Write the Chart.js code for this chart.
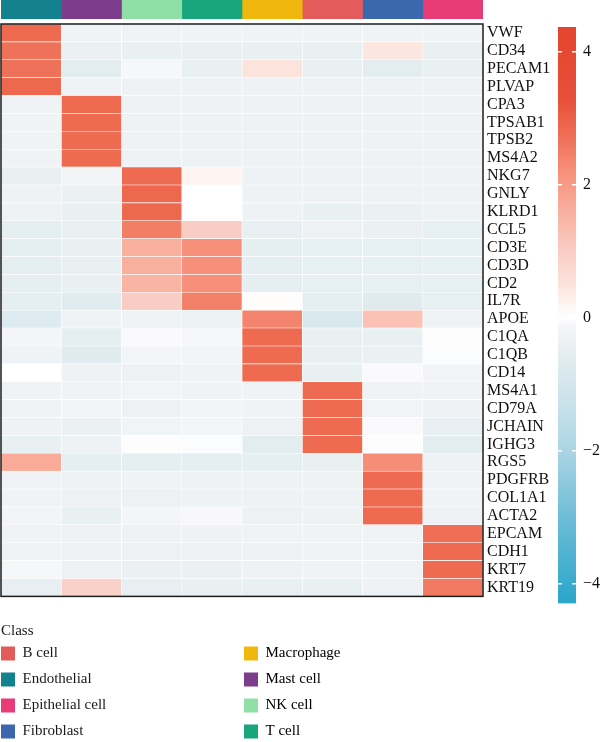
<!DOCTYPE html>
<html>
<head>
<meta charset="utf-8">
<script src="https://cdn.jsdelivr.net/npm/chart.js@4.4.1/dist/chart.umd.min.js"></script>
<style>
  body { margin: 0; background: #fff; }
  #wrap { position: relative; width: 600px; height: 742px; overflow: hidden; }
  canvas { position: absolute; }
</style>
</head>
<body>
<div id="wrap">
  <canvas id="annot" width="556" height="19" style="left:0;top:0"></canvas>
  <canvas id="heat" width="556" height="610" style="left:0;top:0"></canvas>
  <canvas id="scale" width="55" height="620" style="left:545px;top:0"></canvas>
  <canvas id="legend1" width="240" height="140" style="left:0;top:623px"></canvas>
  <canvas id="legend2" width="240" height="140" style="left:243px;top:646px"></canvas>
</div>
<script>
// rows (genes), top to bottom
const genes = ['VWF', 'CD34', 'PECAM1', 'PLVAP', 'CPA3', 'TPSAB1', 'TPSB2', 'MS4A2',
  'NKG7', 'GNLY', 'KLRD1', 'CCL5', 'CD3E', 'CD3D', 'CD2', 'IL7R',
  'APOE', 'C1QA', 'C1QB', 'CD14', 'MS4A1', 'CD79A', 'JCHAIN', 'IGHG3',
  'RGS5', 'PDGFRB', 'COL1A1', 'ACTA2', 'EPCAM', 'CDH1', 'KRT7', 'KRT19'];

// columns, left to right
const cellTypes = ['Endothelial', 'Mast cell', 'NK cell', 'T cell', 'Macrophage', 'B cell', 'Fibroblast', 'Epithelial cell'];

// scaled expression per column (one value per gene)
const endothelial = [2.8, 2.7, 2.7, 2.85, -0.3, -0.27, -0.3, -0.27, -0.45, -0.33, -0.33, -0.54, -0.54, -0.54, -0.54, -0.54,
  -0.75, -0.15, -0.3, 0, -0.27, -0.27, -0.33, -0.45, 1.7, -0.3, -0.27, -0.22, -0.3, -0.3, -0.12, -0.5];
const mastCell = [-0.27, -0.4, -0.6, -0.3, 2.8, 2.8, 2.8, 2.8, -0.22, -0.4, -0.45, -0.45, -0.45, -0.45, -0.45, -0.65,
  -0.27, -0.54, -0.7, -0.33, -0.27, -0.22, -0.4, -0.33, -0.54, -0.33, -0.36, -0.45, -0.33, -0.33, -0.36, 0.9];
const nkCell = [-0.27, -0.45, -0.12, -0.33, -0.33, -0.33, -0.33, -0.33, 2.8, 2.85, 2.85, 2.5, 1.6, 1.6, 1.5, 1.0,
  -0.3, -0.07, -0.15, -0.36, -0.25, -0.36, -0.24, -0.03, -0.54, -0.27, -0.36, -0.15, -0.33, -0.36, -0.4, -0.5];
const tCell = [-0.3, -0.45, -0.45, -0.33, -0.33, -0.33, -0.33, -0.33, 0.2, 0, 0, 1.0, 2.2, 2.2, 2.2, 2.45,
  -0.38, -0.12, -0.2, -0.3, -0.27, -0.2, -0.18, -0.05, -0.54, -0.33, -0.33, -0.1, -0.33, -0.36, -0.4, -0.45];
const macrophage = [-0.3, -0.45, 0.5, -0.33, -0.33, -0.33, -0.33, -0.33, -0.33, -0.33, -0.33, -0.47, -0.54, -0.54, -0.54, 0.05,
  2.4, 2.8, 2.8, 2.8, -0.3, -0.3, -0.36, -0.6, -0.54, -0.33, -0.33, -0.36, -0.27, -0.33, -0.33, -0.45];
const bCell = [-0.3, -0.45, -0.45, -0.33, -0.33, -0.33, -0.33, -0.33, -0.33, -0.33, -0.45, -0.36, -0.52, -0.52, -0.52, -0.54,
  -0.88, -0.45, -0.45, -0.45, 2.8, 2.8, 2.8, 2.8, -0.45, -0.33, -0.33, -0.33, -0.27, -0.3, -0.3, -0.45];
const fibroblast = [-0.3, 0.45, -0.6, -0.33, -0.33, -0.33, -0.33, -0.33, -0.33, -0.33, -0.4, -0.4, -0.52, -0.52, -0.52, -0.7,
  1.25, -0.45, -0.4, -0.07, -0.3, -0.24, -0.07, -0.03, 2.25, 2.8, 2.8, 2.8, -0.27, -0.3, -0.3, -0.33];
const epithelial = [-0.3, -0.45, -0.45, -0.33, -0.33, -0.33, -0.33, -0.33, -0.33, -0.33, -0.33, -0.52, -0.52, -0.52, -0.52, -0.52,
  -0.27, -0.03, -0.05, -0.2, -0.27, -0.33, -0.47, -0.6, -0.33, -0.27, -0.27, -0.33, 2.75, 2.8, 2.8, 2.55];

const columns = [endothelial, mastCell, nkCell, tCell, macrophage, bCell, fibroblast, epithelial];

// annotation colours, same order as cellTypes
const classColors = ['#13828E', '#7E3C8C', '#90DFA7', '#19A67C', '#F2B70F', '#E35B5B', '#3A67AD', '#E93C77'];

// legend columns
const legendLeft = ['B cell', 'Endothelial', 'Epithelial cell', 'Fibroblast'];
const legendRight = ['Macrophage', 'Mast cell', 'NK cell', 'T cell'];

// colour key
const colorMin = -4.3;
const colorMax = 4.37;
const colorTicks = [-4, -2, 0, 2, 4];
const stopValues = [-4.3, -3, -2, -1.2, -0.8, -0.55, -0.33, -0.15, 0, 0.5, 1.0, 1.6, 2.2, 2.8, 3.3, 4.37];
const stopColors = ['#2AA5CB', '#6EBDD7', '#ABD5E4', '#CDE3EB', '#DBE9EE', '#E5EEF1', '#EEF2F4', '#F4F5F8',
  '#FFFFFF', '#FCE3DC', '#FACDC4', '#F9AF9E', '#F7907A', '#EE6B52', '#E75039', '#E4452E'];

function hexRgb(h) {
  return [parseInt(h.slice(1, 3), 16), parseInt(h.slice(3, 5), 16), parseInt(h.slice(5, 7), 16)];
}

function colorFor(v) {
  if (v <= stopValues[0]) return stopColors[0];
  for (let i = 1; i < stopValues.length; i++) {
    if (v <= stopValues[i]) {
      const t = (v - stopValues[i - 1]) / (stopValues[i] - stopValues[i - 1]);
      const a = hexRgb(stopColors[i - 1]), b = hexRgb(stopColors[i]);
      const c = a.map((x, k) => Math.round(x + (b[k] - x) * t));
      return 'rgb(' + c.join(',') + ')';
    }
  }
  return stopColors[stopColors.length - 1];
}

function gradientFill(context) {
  const chart = context.chart;
  if (!chart.chartArea) return null;
  const y = chart.scales.y;
  const g = chart.ctx.createLinearGradient(0, y.getPixelForValue(colorMax), 0, y.getPixelForValue(colorMin));
  stopValues.forEach((v, i) => {
    const off = Math.min(1, Math.max(0, (colorMax - v) / (colorMax - colorMin)));
    g.addColorStop(off, stopColors[i]);
  });
  return g;
}

Chart.defaults.font.family = "'Liberation Serif', 'DejaVu Serif', serif";
Chart.defaults.color = '#1a1a1a';
Chart.defaults.animation = false;

// black frame round the heatmap body
const frame = {
  id: 'frame',
  afterDatasetsDraw(chart) {
    const {ctx, chartArea: a} = chart;
    ctx.save();
    ctx.strokeStyle = '#1c1c1c';
    ctx.lineWidth = 1.5;
    ctx.strokeRect(a.left, a.top, a.right - a.left, a.bottom - a.top);
    ctx.restore();
  }
};

// top annotation bar
new Chart(document.getElementById('annot'), {
  type: 'bar',
  data: {
    labels: ['Class'],
    datasets: cellTypes.map((c, i) => ({
      label: c,
      data: [1],
      backgroundColor: classColors[i],
      borderWidth: 0,
      barPercentage: 1,
      categoryPercentage: 1
    }))
  },
  options: {
    indexAxis: 'y',
    responsive: false,
    layout: { padding: { left: 1, right: 73 } },
    scales: {
      x: { stacked: true, min: 0, max: cellTypes.length, display: false },
      y: { stacked: true, display: false }
    },
    plugins: { legend: { display: false }, tooltip: { enabled: false } }
  }
});

// heatmap body
new Chart(document.getElementById('heat'), {
  type: 'bar',
  data: {
    labels: genes,
    datasets: columns.map((vals, i) => ({
      label: cellTypes[i],
      data: vals.map(() => 1),
      backgroundColor: vals.map(colorFor),
      borderColor: '#ffffff',
      borderWidth: 0.6,
      borderSkipped: false,
      barPercentage: 1,
      categoryPercentage: 1
    }))
  },
  options: {
    indexAxis: 'y',
    responsive: false,
    layout: { padding: { left: 1, top: 24, bottom: 7 } },
    scales: {
      x: { stacked: true, min: 0, max: cellTypes.length, display: false },
      y: {
        stacked: true,
        position: 'right',
        grid: { display: false, drawTicks: false },
        border: { display: false },
        ticks: { padding: 4, autoSkip: false, color: '#111', font: { size: 16 } },
        afterFit: s => { s.width = 73; }
      }
    },
    plugins: { legend: { display: false }, tooltip: { enabled: false } }
  },
  plugins: [frame]
});

// colour key
new Chart(document.getElementById('scale'), {
  type: 'bar',
  data: {
    labels: ['z'],
    datasets: [{
      data: [[colorMin, colorMax]],
      backgroundColor: gradientFill,
      borderWidth: 0,
      barPercentage: 1,
      categoryPercentage: 1
    }]
  },
  options: {
    responsive: false,
    layout: { padding: { left: 13, top: 27, bottom: 16 } },
    scales: {
      x: { display: false },
      y: {
        position: 'right',
        min: colorMin,
        max: colorMax,
        afterBuildTicks: s => { s.ticks = colorTicks.map(v => ({ value: v })); },
        afterFit: s => { s.width = 24; },
        grid: { color: '#ffffff', lineWidth: 1.5, drawTicks: false, z: 1 },
        border: { display: false, dash: [4, 10] },
        ticks: {
          padding: 7,
          color: '#111',
          font: { size: 16 },
          callback: v => v < 0 ? '\u2212' + Math.abs(v) : String(v)
        }
      }
    },
    plugins: { legend: { display: false }, tooltip: { enabled: false } }
  }
});

function legendChart(id, names, showTitle) {
  return new Chart(document.getElementById(id), {
    type: 'bar',
    data: {
      labels: [],
      datasets: names.map(n => ({
        label: n,
        data: [],
        backgroundColor: classColors[cellTypes.indexOf(n)],
        borderWidth: 0
      }))
    },
    options: {
      responsive: false,
      layout: { padding: { left: 1 } },
      scales: { x: { display: false }, y: { display: false } },
      plugins: {
        tooltip: { enabled: false },
        legend: {
          position: 'left',
          align: 'start',
          title: {
            display: showTitle,
            text: 'Class',
            position: 'start',
            color: '#1a1a1a',
            font: { size: 15 },
            padding: { top: 1, bottom: 4 }
          },
          labels: {
            boxWidth: 14,
            boxHeight: 14,
            padding: 0,
            color: '#1a1a1a',
            font: { size: 15, lineHeight: '26px' },
            generateLabels: chart => chart.data.datasets.map((ds, i) => ({
              text: [ds.label],
              fillStyle: ds.backgroundColor,
              strokeStyle: ds.backgroundColor,
              lineWidth: 0,
              hidden: false,
              datasetIndex: i
            }))
          }
        }
      }
    }
  });
}

legendChart('legend1', legendLeft, true);
legendChart('legend2', legendRight, false);
</script>
</body>
</html>
